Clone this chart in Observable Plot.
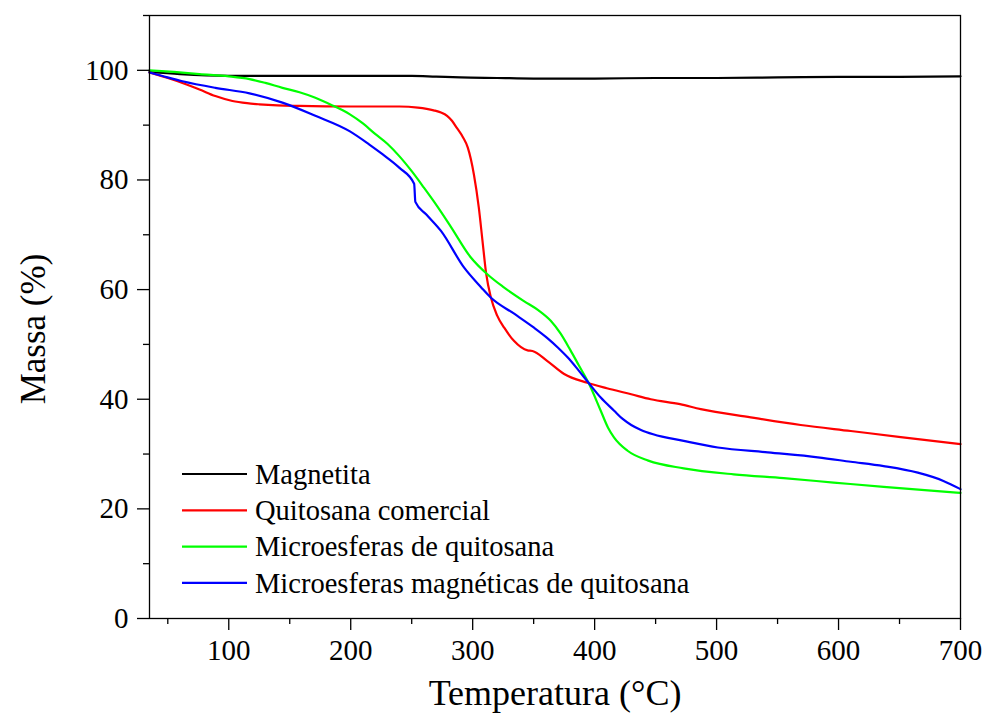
<!DOCTYPE html>
<html>
<head>
<meta charset="utf-8">
<script src="https://cdn.jsdelivr.net/npm/d3@7"></script>
<script src="https://cdn.jsdelivr.net/npm/@observablehq/plot@0.6"></script>
<style>
  html, body { margin: 0; padding: 0; background: #ffffff; }
  #chart svg { display: block; }
</style>
</head>
<body>
<div id="chart"></div>
<script>
// ---- data ----
const seriesNames = ["Magnetita", "Quitosana comercial", "Microesferas de quitosana", "Microesferas magnéticas de quitosana"];
const seriesColors = ["#000000", "#ff0000", "#00ff00", "#0000ff"];

const magnetitaT = [35, 60, 100, 150, 200, 250, 270, 290, 320, 350, 400, 450, 500, 550, 600, 650, 700];
const magnetitaM = [99.7, 99.3, 99.0, 99.0, 99.0, 99.0, 98.85, 98.7, 98.6, 98.5, 98.5, 98.6, 98.6, 98.7, 98.8, 98.8, 98.9];

const quitosanaT = [35, 50, 62, 76, 89, 103, 115, 125, 140, 158, 200, 240, 255, 268, 274, 279, 283, 287, 292, 296, 301, 305, 308, 311, 315, 320, 326, 334, 345, 349, 361, 375, 394, 410, 430, 446, 470, 487, 528, 569, 610, 651, 700];
const quitosanaM = [99.6, 98.6, 97.7, 96.5, 95.3, 94.4, 94.0, 93.8, 93.6, 93.5, 93.4, 93.4, 93.2, 92.7, 92.3, 91.7, 90.8, 89.5, 87.8, 85.9, 81.0, 75.0, 69.0, 63.0, 58.5, 55.3, 53.0, 50.6, 48.9, 48.8, 47.0, 44.6, 43.0, 42.0, 40.9, 40.0, 39.1, 38.2, 36.7, 35.3, 34.2, 33.1, 31.8];

const microT = [35, 55, 76, 100, 117, 130, 144, 158, 171, 185, 199, 210, 220, 230, 240, 250, 260, 270, 282, 298, 312, 325, 342, 354, 364, 372, 380, 387, 395, 405, 411, 416, 427, 444, 473, 514, 555, 596, 637, 700];
const microM = [100.0, 99.7, 99.3, 98.9, 98.4, 97.7, 96.8, 96.0, 95.0, 93.6, 92.0, 90.3, 88.4, 86.6, 84.3, 81.6, 78.6, 75.5, 71.5, 66.0, 62.8, 60.5, 57.9, 56.2, 54.3, 52.0, 49.0, 46.2, 43.0, 37.9, 34.8, 33.0, 30.6, 28.8, 27.4, 26.3, 25.6, 24.8, 24.0, 22.9];

const magMicroT = [35, 45, 62, 89, 117, 144, 171, 199, 215, 226, 240, 252, 253, 262, 274, 293, 307, 315, 334, 350, 361, 370, 378, 386, 395, 405, 416, 423, 430, 438, 448, 473, 501, 542, 583, 610, 637, 665, 686, 700];
const magMicroM = [99.6, 99.0, 98.0, 96.8, 95.8, 94.1, 91.7, 88.9, 86.5, 84.7, 82.2, 79.3, 76.0, 73.7, 70.7, 64.0, 60.4, 58.5, 55.6, 53.1, 51.2, 49.4, 47.6, 45.5, 43.0, 40.3, 37.9, 36.4, 35.3, 34.4, 33.6, 32.4, 31.2, 30.3, 29.4, 28.6, 27.8, 26.6, 25.1, 23.6];

const xMajorTicks = [100, 200, 300, 400, 500, 600, 700];
const xMinorTicks = [50, 150, 250, 350, 450, 550, 650];
const yMajorTicks = [0, 20, 40, 60, 80, 100];
const yMinorTicks = [10, 30, 50, 70, 90, 110];

const xLabel = "Temperatura (°C)";
const yLabel = "Massa (%)";

// ---- build table ----
const seriesT = [magnetitaT, quitosanaT, microT, magMicroT];
const seriesM = [magnetitaM, quitosanaM, microM, magMicroM];
const rows = [];
seriesNames.forEach((name, i) => {
  seriesT[i].forEach((t, j) => rows.push({series: name, t, m: seriesM[i][j]}));
});

const font = "'Liberation Serif', 'Times New Roman', Times, serif";

const chart = Plot.plot({
  width: 985,
  height: 722,
  marginLeft: 149,
  marginRight: 25,
  marginTop: 15,
  marginBottom: 104,
  style: {fontFamily: font, fontSize: "29px", background: "#ffffff", color: "#000000"},
  x: {domain: [35, 700], axis: null},
  y: {domain: [0, 110], axis: null},
  color: {domain: seriesNames, range: seriesColors},
  marks: [
    Plot.line(rows, {x: "t", y: "m", z: "series", stroke: "series", strokeWidth: 2.2, curve: "monotone-x"}),
    Plot.frame({stroke: "#000000", strokeWidth: 1.3}),
    Plot.axisX({ticks: xMajorTicks, tickSize: 12, tickPadding: 9, strokeWidth: 1.3, fontSize: 29, label: null}),
    Plot.axisX({ticks: xMinorTicks, tickSize: 6, strokeWidth: 1.3, tickFormat: () => "", label: null}),
    Plot.axisY({ticks: yMajorTicks, tickSize: 12, tickPadding: 9, strokeWidth: 1.3, fontSize: 29, label: null}),
    Plot.axisY({ticks: yMinorTicks, tickSize: 6, strokeWidth: 1.3, tickFormat: () => "", label: null}),
    Plot.text([xLabel], {frameAnchor: "bottom", dy: 86, fontSize: 36, textAnchor: "middle", text: d => d}),
    Plot.text([yLabel], {frameAnchor: "left", dx: -116, dy: 12, rotate: -90, fontSize: 35, textAnchor: "middle", text: d => d})
  ]
});

document.getElementById("chart").appendChild(chart);

// ---- legend (inside the plot area, lower left) ----
const svg = d3.select(chart);
const lg = svg.append("g").attr("font-family", font).attr("font-size", 28.5).attr("text-anchor", "start");
const legendY0 = 474, legendStep = 36.3;
seriesNames.forEach((name, i) => {
  const y = legendY0 + i * legendStep;
  lg.append("line").attr("x1", 182).attr("x2", 247).attr("y1", y).attr("y2", y)
    .attr("stroke", seriesColors[i]).attr("stroke-width", 2.2);
  lg.append("text").attr("x", 255).attr("y", y).attr("dy", "0.34em")
    .attr("text-anchor", "start").attr("fill", "#000000").text(name);
});
</script>
</body>
</html>
